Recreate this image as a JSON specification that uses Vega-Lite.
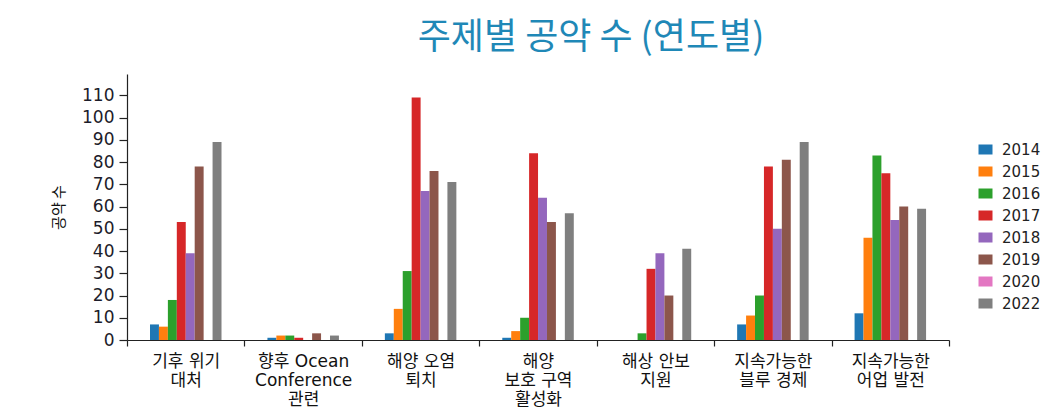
{
  "$schema": "https://vega.github.io/schema/vega-lite/v6.json",
  "width": 822,
  "height": 266,
  "autosize": {"type": "none"},
  "padding": {"left": 127, "top": 74, "right": 102, "bottom": 70},
  "background": "white",
  "title": {
    "text": "주제별 공약 수 (연도별)",
    "font": "Noto Sans CJK KR",
    "fontSize": 36,
    "fontWeight": "normal",
    "color": "#1f88b7",
    "anchor": "middle",
    "frame": "group",
    "offset": 17,
    "dx": 53
  },
  "data": {
    "values": [
      {"topic": "기후 위기 대처", "year": "2014", "count": 7},
      {"topic": "기후 위기 대처", "year": "2015", "count": 6},
      {"topic": "기후 위기 대처", "year": "2016", "count": 18},
      {"topic": "기후 위기 대처", "year": "2017", "count": 53},
      {"topic": "기후 위기 대처", "year": "2018", "count": 39},
      {"topic": "기후 위기 대처", "year": "2019", "count": 78},
      {"topic": "기후 위기 대처", "year": "2022", "count": 89},
      {"topic": "향후 Ocean Conference 관련", "year": "2014", "count": 1},
      {"topic": "향후 Ocean Conference 관련", "year": "2015", "count": 2},
      {"topic": "향후 Ocean Conference 관련", "year": "2016", "count": 2},
      {"topic": "향후 Ocean Conference 관련", "year": "2017", "count": 1},
      {"topic": "향후 Ocean Conference 관련", "year": "2019", "count": 3},
      {"topic": "향후 Ocean Conference 관련", "year": "2022", "count": 2},
      {"topic": "해양 오염 퇴치", "year": "2014", "count": 3},
      {"topic": "해양 오염 퇴치", "year": "2015", "count": 14},
      {"topic": "해양 오염 퇴치", "year": "2016", "count": 31},
      {"topic": "해양 오염 퇴치", "year": "2017", "count": 109},
      {"topic": "해양 오염 퇴치", "year": "2018", "count": 67},
      {"topic": "해양 오염 퇴치", "year": "2019", "count": 76},
      {"topic": "해양 오염 퇴치", "year": "2022", "count": 71},
      {"topic": "해양 보호 구역 활성화", "year": "2014", "count": 1},
      {"topic": "해양 보호 구역 활성화", "year": "2015", "count": 4},
      {"topic": "해양 보호 구역 활성화", "year": "2016", "count": 10},
      {"topic": "해양 보호 구역 활성화", "year": "2017", "count": 84},
      {"topic": "해양 보호 구역 활성화", "year": "2018", "count": 64},
      {"topic": "해양 보호 구역 활성화", "year": "2019", "count": 53},
      {"topic": "해양 보호 구역 활성화", "year": "2022", "count": 57},
      {"topic": "해상 안보 지원", "year": "2016", "count": 3},
      {"topic": "해상 안보 지원", "year": "2017", "count": 32},
      {"topic": "해상 안보 지원", "year": "2018", "count": 39},
      {"topic": "해상 안보 지원", "year": "2019", "count": 20},
      {"topic": "해상 안보 지원", "year": "2022", "count": 41},
      {"topic": "지속가능한 블루 경제", "year": "2014", "count": 7},
      {"topic": "지속가능한 블루 경제", "year": "2015", "count": 11},
      {"topic": "지속가능한 블루 경제", "year": "2016", "count": 20},
      {"topic": "지속가능한 블루 경제", "year": "2017", "count": 78},
      {"topic": "지속가능한 블루 경제", "year": "2018", "count": 50},
      {"topic": "지속가능한 블루 경제", "year": "2019", "count": 81},
      {"topic": "지속가능한 블루 경제", "year": "2022", "count": 89},
      {"topic": "지속가능한 어업 발전", "year": "2014", "count": 12},
      {"topic": "지속가능한 어업 발전", "year": "2015", "count": 46},
      {"topic": "지속가능한 어업 발전", "year": "2016", "count": 83},
      {"topic": "지속가능한 어업 발전", "year": "2017", "count": 75},
      {"topic": "지속가능한 어업 발전", "year": "2018", "count": 54},
      {"topic": "지속가능한 어업 발전", "year": "2019", "count": 60},
      {"topic": "지속가능한 어업 발전", "year": "2022", "count": 59}
    ]
  },
  "mark": {"type": "bar"},
  "encoding": {
    "x": {
      "field": "topic",
      "type": "nominal",
      "sort": null,
      "scale": {"paddingInner": 0, "paddingOuter": 0},
      "axis": {
        "title": null,
        "labelAngle": 0,
        "tickBand": "extent",
        "tickSize": 6,
        "tickColor": "#222",
        "domainColor": "#222",
        "labelFont": "DejaVu Sans, Noto Sans CJK KR",
        "labelFontSize": 17,
        "labelColor": "#111",
        "labelPadding": 7,
        "labelLineHeight": 19,
        "labelExpr": "{'기후 위기 대처': ['기후 위기', '대처'], '향후 Ocean Conference 관련': ['향후 Ocean', 'Conference', '관련'], '해양 오염 퇴치': ['해양 오염', '퇴치'], '해양 보호 구역 활성화': ['해양', '보호 구역', '활성화'], '해상 안보 지원': ['해상 안보', '지원'], '지속가능한 블루 경제': ['지속가능한', '블루 경제'], '지속가능한 어업 발전': ['지속가능한', '어업 발전']}[datum.value]"
      }
    },
    "xOffset": {
      "field": "year",
      "type": "nominal",
      "scale": {
        "domain": ["2014", "2015", "2016", "2017", "2018", "2019", "2020", "2022"],
        "range": [23, 94.5],
        "paddingInner": 0,
        "paddingOuter": 0
      }
    },
    "y": {
      "field": "count",
      "type": "quantitative",
      "scale": {"domain": [0, 119.6], "nice": false},
      "axis": {
        "title": "공약 수",
        "titleFont": "Noto Sans CJK KR",
        "titleFontSize": 15,
        "titleFontWeight": "normal",
        "titleColor": "#111",
        "titlePadding": 15,
        "values": [0, 10, 20, 30, 40, 50, 60, 70, 80, 90, 100, 110],
        "grid": false,
        "tickSize": 8,
        "tickColor": "#222",
        "domainColor": "#222",
        "labelFont": "DejaVu Sans",
        "labelFontSize": 17,
        "labelColor": "#1c1c2a",
        "labelPadding": 5
      }
    },
    "color": {
      "field": "year",
      "type": "nominal",
      "scale": {
        "domain": ["2014", "2015", "2016", "2017", "2018", "2019", "2020", "2022"],
        "range": ["#1f77b4", "#ff7f0e", "#2ca02c", "#d62728", "#9467bd", "#8c564b", "#e377c2", "#7f7f7f"]
      },
      "legend": {
        "title": null,
        "orient": "none",
        "legendX": 851,
        "legendY": 68,
        "padding": 0,
        "symbolType": "M-1.4,-1H1.4V1H-1.4Z",
        "symbolSize": 100,
        "symbolStrokeWidth": 0,
        "labelFont": "DejaVu Sans",
        "labelFontSize": 15,
        "labelColor": "#222",
        "labelOffset": 9,
        "rowPadding": 6
      }
    }
  },
  "config": {
    "view": {"stroke": null},
    "axis": {"domainWidth": 1.2, "tickWidth": 1.2}
  }
}
